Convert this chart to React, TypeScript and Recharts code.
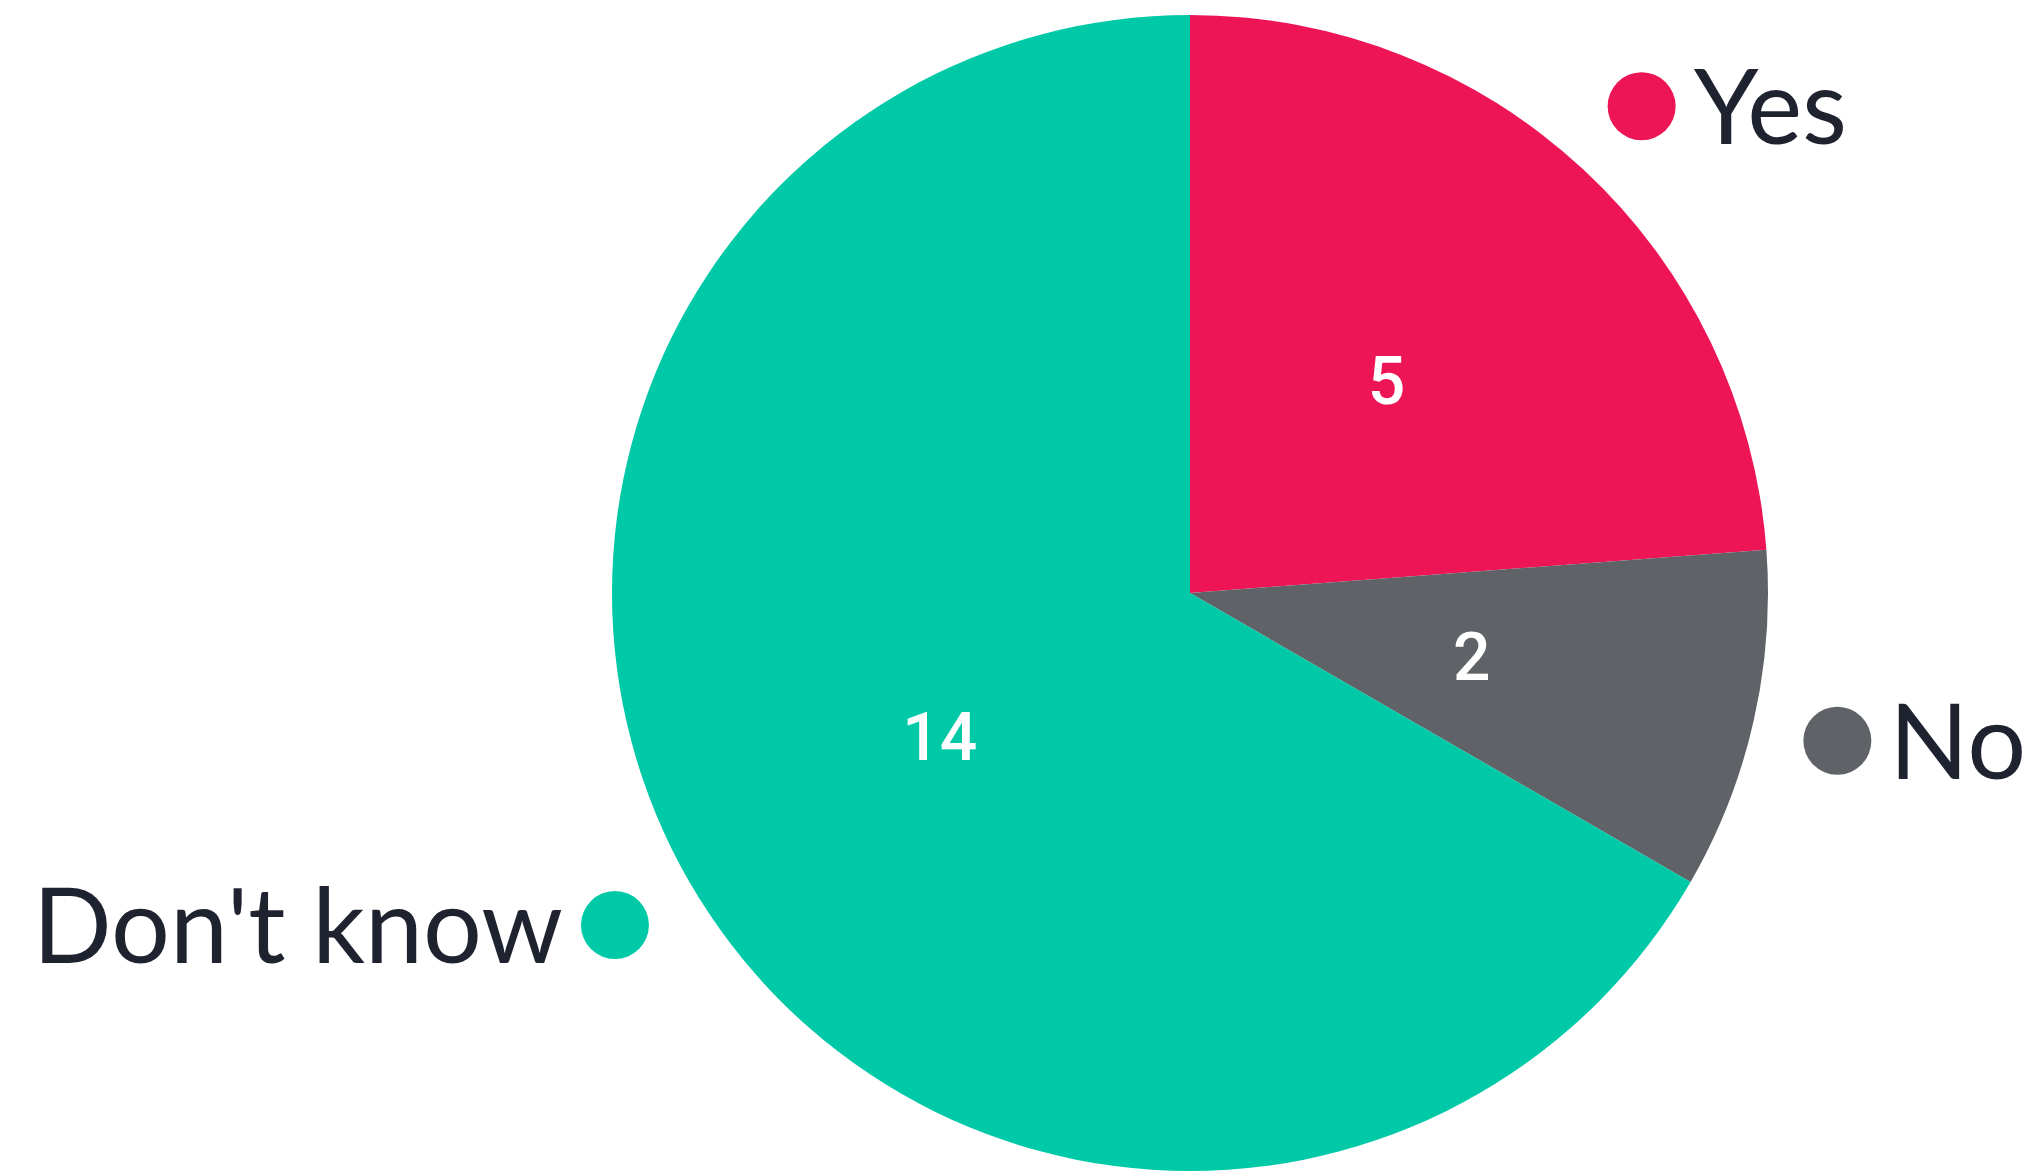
import { PieChart, Pie, Cell } from "recharts";

const answers = ["Yes", "No", "Don't know"];
const votes = [5, 2, 14];
const colors = ["#EE1556", "#5F6266", "#00C9A7"];

const data = answers.map((name, i) => ({ name, value: votes[i] }));

const RADIAN = Math.PI / 180;
const TEXT_COLOR = "#1F2330";

// inner number at half radius, dot + answer name outside along the mid angle
function renderLabel(props: any) {
  const { cx, cy, midAngle, outerRadius, index, name, value } = props;
  const cos = Math.cos(-midAngle * RADIAN);
  const sin = Math.sin(-midAngle * RADIAN);
  const ix = cx + outerRadius * 0.5 * cos;
  const iy = cy + outerRadius * 0.5 * sin;
  const dotR = 34;
  const ox = cx + (outerRadius + 86) * cos;
  const oy = cy + (outerRadius + 86) * sin;
  const right = cos >= 0;
  return (
    <g>
      <text
        x={ix}
        y={iy}
        fill="#fff"
        textAnchor="middle"
        dominantBaseline="central"
        fontFamily="Roboto, 'Liberation Sans', sans-serif"
        fontWeight={500}
        fontSize={66}
      >
        {value}
      </text>
      <circle cx={ox} cy={oy} r={dotR} fill={colors[index]} />
      <text
        x={right ? ox + dotR + 18 : ox - dotR - 18}
        y={oy + 38}
        fill={TEXT_COLOR}
        textAnchor={right ? "start" : "end"}
        fontFamily="Lato, 'Noto Sans', sans-serif"
        fontWeight={400}
        fontSize={104}
      >
        {name}
      </text>
    </g>
  );
}

export default function App() {
  return (
    <div style={{ position: "absolute", left: 0, top: 0, width: 2034, height: 1174, background: "#fff" }}>
      <PieChart width={2034} height={1174} margin={{ top: 0, right: 0, bottom: 0, left: 0 }}>
        <Pie
          data={data}
          dataKey="value"
          nameKey="name"
          cx={1190}
          cy={593}
          outerRadius={578}
          startAngle={90}
          endAngle={-270}
          stroke="none"
          label={renderLabel}
          labelLine={false}
          isAnimationActive={false}
        >
          {data.map((d, i) => (
            <Cell key={d.name} fill={colors[i]} />
          ))}
        </Pie>
      </PieChart>
    </div>
  );
}
